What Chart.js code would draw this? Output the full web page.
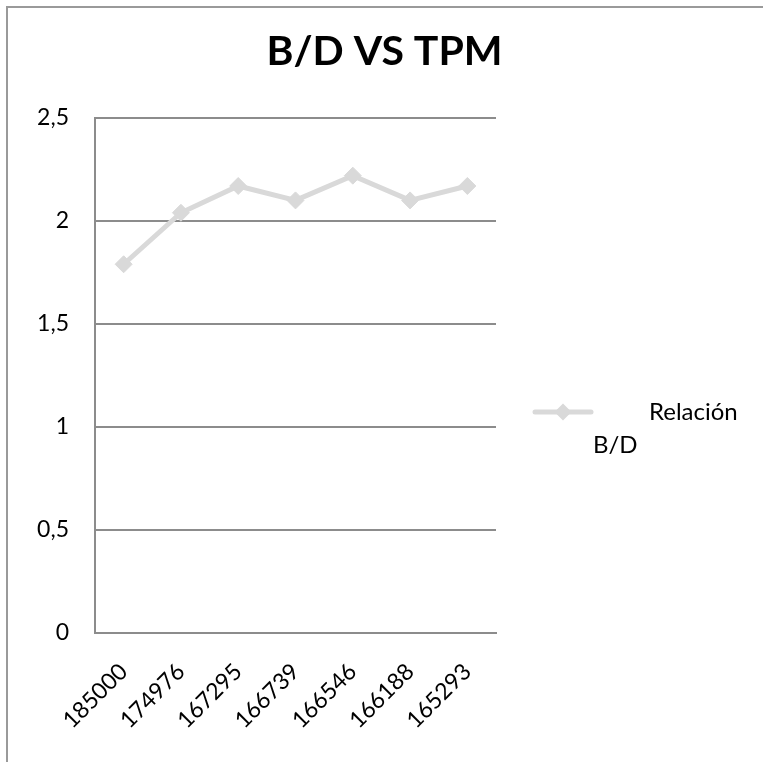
<!DOCTYPE html>
<html>
<head>
<meta charset="utf-8">
<script src="https://cdn.jsdelivr.net/npm/chart.js@4/dist/chart.umd.min.js"></script>
<style>
  html, body { margin: 0; padding: 0; background: #fff; overflow: hidden; }
  #wrap { position: relative; width: 763px; height: 762px; overflow: hidden; }
  #frame { position: absolute; left: 6px; top: 6px; width: 900px; height: 900px;
           border-top: 2px solid #9a9a9a; border-left: 2px solid #9a9a9a; box-sizing: border-box; }
  canvas { position: absolute; left: 0; top: 0; }
</style>
</head>
<body>
<div id="wrap">
  <div id="frame"></div>
  <canvas id="c" width="763" height="762"></canvas>
</div>
<script>
// TPM categories on the x axis
const tpmLabels = ['185000', '174976', '167295', '166739', '166546', '166188', '165293'];
// B/D ratio for each TPM value
const bdRatio = [1.79, 2.04, 2.17, 2.10, 2.22, 2.10, 2.17];
// Series name (shown wrapped in the legend)
const seriesName = ['Relación', 'B/D'];
const chartTitle = 'B/D VS TPM';

const FONT = 'Lato, "Open Sans", sans-serif';
const LINE_COLOR = '#d9d9d9';
const GRID_COLOR = '#8c8c8c';

// Title centred across the whole canvas, above the plot
const centeredTitle = {
  id: 'centeredTitle',
  afterDraw(chart) {
    const { ctx, width } = chart;
    ctx.save();
    ctx.fillStyle = '#000';
    ctx.font = 'bold 41px ' + FONT;
    ctx.textAlign = 'center';
    ctx.textBaseline = 'middle';
    ctx.fillText(chartTitle, width / 2 + 3, 52);
    ctx.restore();
  }
};

// Legend drawn to the right of the plot, with the name split across two lines
const sideLegend = {
  id: 'sideLegend',
  afterDraw(chart) {
    const { ctx, chartArea } = chart;
    const ds = chart.data.datasets[0];
    const x0 = chartArea.right + 39;
    const x1 = chartArea.right + 95;
    const xm = (x0 + x1) / 2;
    const y = 412;
    ctx.save();
    ctx.strokeStyle = ds.borderColor;
    ctx.lineWidth = ds.borderWidth;
    ctx.lineCap = 'round';
    ctx.beginPath();
    ctx.moveTo(x0, y);
    ctx.lineTo(x1, y);
    ctx.stroke();
    ctx.fillStyle = ds.pointBackgroundColor;
    ctx.beginPath();
    ctx.moveTo(xm, y - 8.5);
    ctx.lineTo(xm + 8.5, y);
    ctx.lineTo(xm, y + 8.5);
    ctx.lineTo(xm - 8.5, y);
    ctx.closePath();
    ctx.fill();
    ctx.fillStyle = '#000';
    ctx.font = '24px ' + FONT;
    ctx.textBaseline = 'middle';
    ctx.textAlign = 'left';
    ctx.fillText(seriesName[0], chartArea.right + 153, y);
    ctx.fillText(seriesName[1], chartArea.right + 97, y + 33);
    ctx.restore();
  }
};

new Chart(document.getElementById('c'), {
  type: 'line',
  data: {
    labels: tpmLabels,
    datasets: [{
      label: seriesName.join(' '),
      data: bdRatio,
      borderColor: LINE_COLOR,
      backgroundColor: LINE_COLOR,
      pointBackgroundColor: LINE_COLOR,
      pointBorderColor: LINE_COLOR,
      borderWidth: 5,
      pointStyle: 'rectRot',
      pointRadius: 8.5,
      pointBorderWidth: 1,
      tension: 0,
      fill: false
    }]
  },
  options: {
    responsive: false,
    animation: false,
    layout: { padding: { left: 0, right: 267, top: 118, bottom: 0 } },
    plugins: {
      legend: { display: false },
      tooltip: { enabled: false },
      title: { display: false }
    },
    scales: {
      x: {
        offset: true,
        grid: { display: false, drawTicks: false },
        border: { display: true, color: GRID_COLOR, width: 2 },
        ticks: {
          color: '#000',
          font: { family: FONT, size: 23 },
          minRotation: 45,
          maxRotation: 45,
          padding: 25,
          autoSkip: false
        },
        afterFit(scale) { scale.height = 762 - 633; }
      },
      y: {
        min: 0,
        max: 2.5,
        grid: { color: GRID_COLOR, lineWidth: 2, drawTicks: false },
        border: { display: true, color: GRID_COLOR, width: 2 },
        ticks: {
          stepSize: 0.5,
          color: '#000',
          font: { family: FONT, size: 23 },
          padding: 26,
          callback: v => String(v).replace('.', ',')
        },
        afterFit(scale) { scale.width = 95; }
      }
    }
  },
  plugins: [centeredTitle, sideLegend]
});
</script>
</body>
</html>
